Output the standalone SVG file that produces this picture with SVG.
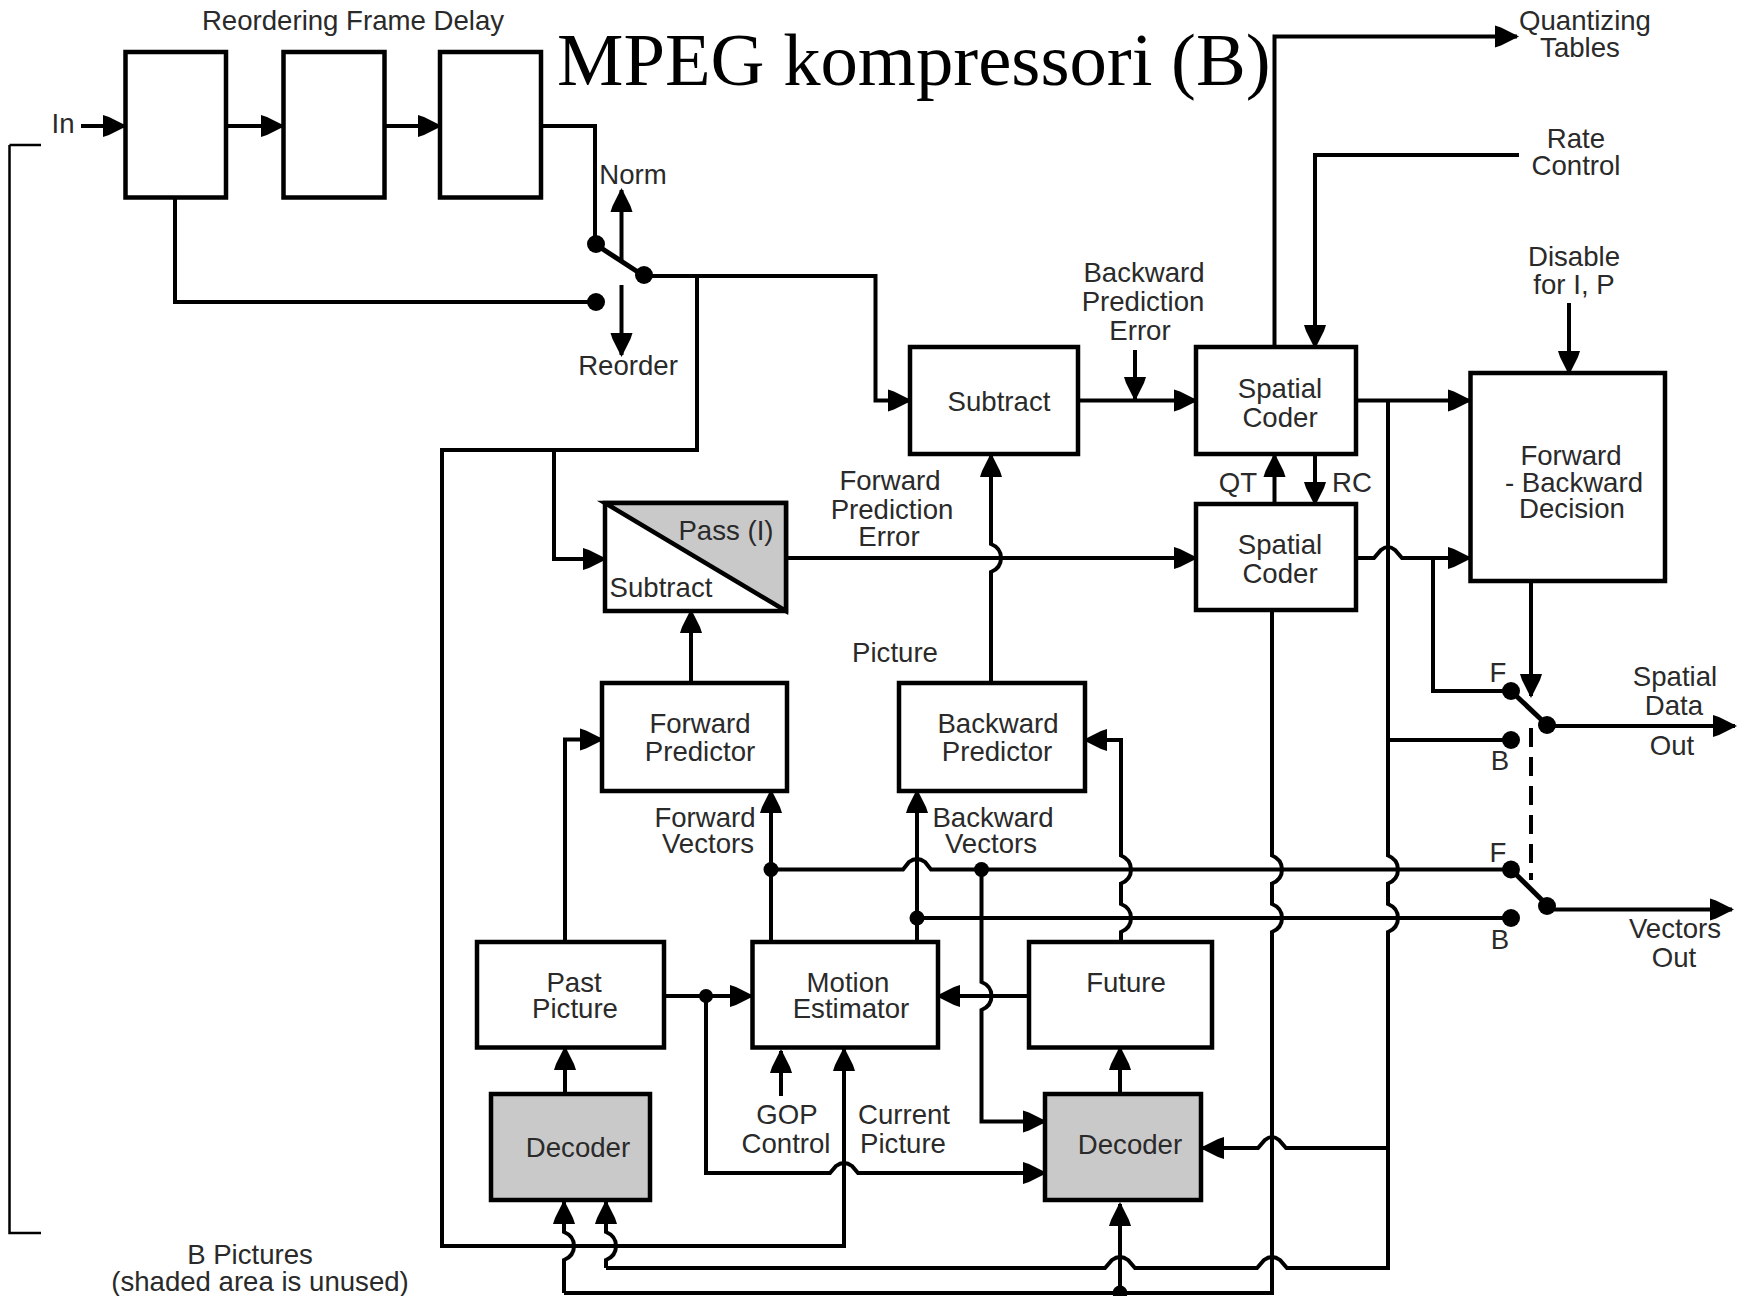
<svg xmlns="http://www.w3.org/2000/svg" width="1740" height="1296" viewBox="0 0 1740 1296">
<style>
text{font-family:"Liberation Sans",Arial,sans-serif;font-size:27.6px;fill:#2a2a2a;text-anchor:middle}
.title{font-family:"Liberation Serif","Times New Roman",serif;font-size:74.7px;fill:#000;text-anchor:start}
.box{fill:#fff;stroke:#000;stroke-width:4.5}
.gray{fill:#c9c9c9;stroke:#000;stroke-width:4.5}
.c{fill:none;stroke:#000;stroke-width:4;stroke-linejoin:miter}
.a{marker-end:url(#arr)}
.d{fill:#000;stroke:none}
</style>
<defs>
<marker id="arr" markerUnits="userSpaceOnUse" markerWidth="26" markerHeight="26" refX="22" refY="13" orient="auto">
<path d="M0,2 L6,4 L24,13 L6,22 L0,24 Z" fill="#000"/>
</marker>
</defs>
<rect width="1740" height="1296" fill="#fff"/>
<g id="connectors">
<path class="c" d="M9.5,145 H41 M9.5,145 V1233 H41" style="stroke-width:2.5"/>
<path class="c a" d="M81,126 H125"/>
<path class="c a" d="M226,126 H283"/>
<path class="c a" d="M385,126 H440"/>
<path class="c" d="M541,126 H595 V244"/>
<path class="c" d="M175,197 V302 H596"/>
<path class="c" d="M595,244 L644,276" style="stroke-width:5"/>
<path class="c a" d="M621.500,261 V190"/>
<path class="c a" d="M621.500,285 V355"/>
<path class="c a" d="M644,276 H875.500 V400.500 H910"/>
<path class="c" d="M697,276 V450 H442 V1246 H844 V1173"/>
<path class="c a" d="M844,1173 V1049"/>
<path class="c a" d="M554,450 V559 H605"/>
<path class="c a" d="M691,684 V611"/>
<path class="c a" d="M786,558 H1196"/>
<path class="c a" d="M565,942 V739.500 H602"/>
<path class="c a" d="M565,1094 V1048"/>
<path class="c a" d="M664,996 H752"/>
<path class="c a" d="M706,996 V1173 H830 L836,1166 Q844,1160 852,1166 L858,1173 H1045"/>
<path class="c a" d="M771,942 V791"/>
<path class="c" d="M771,869.500 H903 L909,862 Q917,856 925,862 L931,869.500 H1511"/>
<path class="c a" d="M917,942 V791"/>
<path class="c" d="M917,918 H1511"/>
<path class="c a" d="M981.500,869.500 V982 Q991.500,986 991.500,996 Q991.500,1006 981.500,1010 V1121.500 H1045"/>
<path class="c a" d="M1029,996 H938"/>
<path class="c a" d="M1121,942 V932 Q1131,928 1131,918 Q1131,908 1121,904 V883.500 Q1131,879.500 1131,869.500 Q1131,859.500 1121,855.500 V740 H1085"/>
<path class="c a" d="M1120,1094 V1048"/>
<path class="c a" d="M991,683 V572 Q1001,568 1001,558 Q1001,548 991,544 V455"/>
<path class="c a" d="M1078,400.500 H1196"/>
<path class="c a" d="M1135,350 V399"/>
<path class="c a" d="M1274.500,347 V36.500 H1517"/>
<path class="c a" d="M1519,155 H1315 V347"/>
<path class="c a" d="M1274.500,504 V455"/>
<path class="c a" d="M1315,454 V504"/>
<path class="c a" d="M1356,400.500 H1470"/>
<path class="c a" d="M1569,303 V373"/>
<path class="c" d="M1388,400.500 V855.500 Q1398,859.500 1398,869.500 Q1398,879.500 1388,883.500 V904 Q1398,908 1398,918 Q1398,928 1388,932 V1268 H1294 L1287,1268 L1280,1260 Q1272,1254 1264,1260 L1257,1268 H1142 L1135,1268 L1128,1260 Q1120,1254 1112,1260 L1105,1268 H606"/>
<path class="c a" d="M606,1268 V1260 Q616,1256 616,1246 Q616,1236 606,1232 V1202"/>
<path class="c a" d="M1356,558 H1374 L1381,550 Q1388,544 1395,550 L1402,558 H1470"/>
<path class="c" d="M1433,558 V691 H1511"/>
<path class="c a" d="M1531,581 V696"/>
<path class="c" d="M1511,691 L1547,725" style="stroke-width:5"/>
<path class="c a" d="M1547,726 H1735"/>
<path class="c" d="M1388,740 H1511"/>
<path class="c" d="M1531,728 V880" style="stroke-dasharray:19 10"/>
<path class="c" d="M1511,869.500 L1547,905" style="stroke-width:5"/>
<path class="c a" d="M1547,909.500 H1732"/>
<path class="c" d="M1272,610 V855.500 Q1282,859.500 1282,869.500 Q1282,879.500 1272,883.500 V904 Q1282,908 1282,918 Q1282,928 1272,932 V1293 H564"/>
<path class="c a" d="M564,1293 V1260 Q574,1256 574,1246 Q574,1236 564,1232 V1202"/>
<path class="c a" d="M1120,1293 V1204"/>
<path class="c a" d="M1388,1148 H1293 L1286,1148 L1279,1140 Q1272,1134 1265,1140 L1258,1148 H1202"/>
<path class="c a" d="M781,1096 V1051"/>
<circle class="d" cx="596" cy="244" r="9"/>
<circle class="d" cx="596" cy="302" r="9"/>
<circle class="d" cx="644" cy="275" r="9"/>
<circle class="d" cx="706" cy="996" r="7"/>
<circle class="d" cx="771" cy="869.500" r="7.500"/>
<circle class="d" cx="917" cy="918" r="7.500"/>
<circle class="d" cx="981.500" cy="869.500" r="7.500"/>
<circle class="d" cx="1120" cy="1293" r="7.500"/>
<circle class="d" cx="1511" cy="691" r="9"/>
<circle class="d" cx="1511" cy="740" r="9"/>
<circle class="d" cx="1511" cy="869.500" r="9"/>
<circle class="d" cx="1511" cy="918" r="9"/>
<circle class="d" cx="1547" cy="725" r="9"/>
<circle class="d" cx="1547" cy="906" r="9"/>
</g>
<g id="delay1"><rect class="box" x="125.500" y="52" width="100.500" height="145.500"/></g>
<g id="delay2"><rect class="box" x="283.500" y="52" width="101" height="145.500"/></g>
<g id="delay3"><rect class="box" x="440" y="52" width="101" height="145.500"/></g>
<g id="pass-subtract">
<rect class="box" x="605" y="503" width="181" height="108"/>
<path d="M605,503 H786 V611 Z" fill="#c9c9c9" stroke="#000" stroke-width="4.500"/>
<text x="726" y="540">Pass (I)</text>
<text x="661" y="597">Subtract</text>
</g>
<g id="subtract"><rect class="box" x="910" y="347" width="168" height="107"/><text x="999" y="411">Subtract</text></g>
<g id="spatial-coder-1"><rect class="box" x="1196" y="347" width="160" height="107"/><text x="1280" y="398">Spatial</text><text x="1280" y="427">Coder</text></g>
<g id="spatial-coder-2"><rect class="box" x="1196" y="504" width="160" height="106"/><text x="1280" y="554">Spatial</text><text x="1280" y="583">Coder</text></g>
<g id="fb-decision"><rect class="box" x="1470.500" y="373" width="194.500" height="208"/><text x="1571" y="465">Forward</text><text x="1574" y="492">- Backward</text><text x="1572" y="518">Decision</text></g>
<g id="forward-predictor"><rect class="box" x="602" y="683" width="185" height="108"/><text x="700" y="733">Forward</text><text x="700" y="761">Predictor</text></g>
<g id="backward-predictor"><rect class="box" x="899" y="683" width="186" height="108"/><text x="998" y="733">Backward</text><text x="997" y="761">Predictor</text></g>
<g id="past-picture"><rect class="box" x="477" y="942" width="187" height="105.500"/><text x="574" y="992">Past</text><text x="575" y="1018">Picture</text></g>
<g id="motion-estimator"><rect class="box" x="752.500" y="942" width="185.500" height="105.500"/><text x="848" y="992">Motion</text><text x="851" y="1018">Estimator</text></g>
<g id="future"><rect class="box" x="1029" y="942" width="183" height="105.500"/><text x="1126" y="992">Future</text></g>
<g id="decoder-left"><rect class="gray" x="491" y="1094" width="159" height="106"/><text x="578" y="1157">Decoder</text></g>
<g id="decoder-right"><rect class="gray" x="1045" y="1094" width="156" height="106"/><text x="1130" y="1154">Decoder</text></g>
<g id="labels">
<text class="title" x="557" y="85">MPEG kompressori (B)</text>
<text x="353" y="30">Reordering Frame Delay</text>
<text x="63" y="133">In</text>
<text x="633" y="184">Norm</text>
<text x="628" y="375">Reorder</text>
<text x="890" y="490">Forward</text><text x="892" y="519">Prediction</text><text x="889" y="546">Error</text>
<text x="1144" y="282">Backward</text><text x="1143" y="311">Prediction</text><text x="1140" y="340">Error</text>
<text x="1238" y="492">QT</text><text x="1352" y="492">RC</text>
<text x="1585" y="30">Quantizing</text><text x="1580" y="57">Tables</text>
<text x="1576" y="148">Rate</text><text x="1576" y="175">Control</text>
<text x="1574" y="266">Disable</text><text x="1574" y="294">for I, P</text>
<text x="895" y="662">Picture</text>
<text x="705" y="827">Forward</text><text x="708" y="853">Vectors</text>
<text x="993" y="827">Backward</text><text x="991" y="853">Vectors</text>
<text x="787" y="1124">GOP</text><text x="786" y="1153">Control</text>
<text x="904" y="1124">Current</text><text x="903" y="1153">Picture</text>
<text x="250" y="1264">B Pictures</text><text x="260" y="1291">(shaded area is unused)</text>
<text x="1498" y="682">F</text><text x="1500" y="770">B</text>
<text x="1498" y="862">F</text><text x="1500" y="949">B</text>
<text x="1675" y="686">Spatial</text><text x="1674" y="715">Data</text><text x="1672" y="755">Out</text>
<text x="1675" y="938">Vectors</text><text x="1674" y="967">Out</text>
</g>
</svg>
